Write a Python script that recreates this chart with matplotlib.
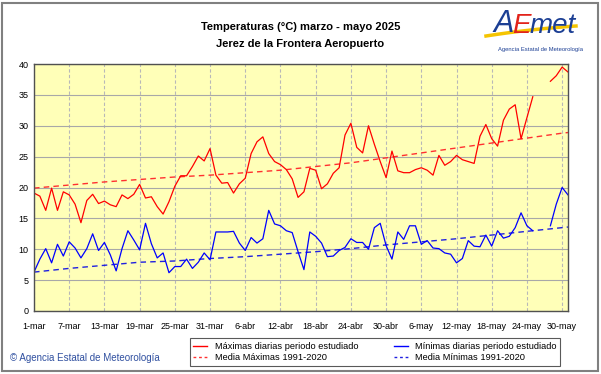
import numpy as np
import matplotlib
matplotlib.use("Agg")
import matplotlib.pyplot as plt
from matplotlib.patches import Rectangle
from matplotlib.lines import Line2D

plt.rcParams['font.family'] = ['Liberation Sans', 'DejaVu Sans']

# daily values, 1-mar .. 31-may 2025 (92 days)
tmax = [19.1, 18.6, 16.3, 19.9, 16.3, 19.3, 18.8, 17.3, 14.3, 17.9,
        18.9, 17.4, 17.8, 17.2, 16.9, 18.8, 18.2, 18.9, 20.5, 18.3,
        18.5, 16.9, 15.7, 17.7, 20.2, 21.9, 21.9, 23.4, 25.1, 24.3,
        26.3, 22.0, 20.7, 20.8, 19.1, 20.6, 21.5, 25.5, 27.4, 28.2,
        25.5, 24.2, 23.7, 22.9, 21.4, 18.4, 19.3, 23.1, 22.8, 19.8,
        20.6, 22.3, 23.2, 28.5, 30.4, 26.5, 25.6, 30.0, 27.0, 24.2,
        21.6, 25.9, 22.7, 22.4, 22.4, 22.9, 23.2, 22.8, 22.0, 25.2,
        23.6, 24.2, 25.2, 24.5, 24.2, 23.9, 28.3, 30.2, 27.9, 26.7,
        30.9, 32.7, 33.4, 27.9, 31.3, 34.7, np.nan, np.nan, 37.2, 38.1,
        39.5, 38.7]
tmin = [6.3, 8.4, 10.1, 7.8, 10.8, 8.9, 11.2, 10.2, 8.6, 10.1,
        12.5, 9.8, 11.1, 9.1, 6.5, 10.1, 13.0, 11.5, 9.9, 14.2,
        10.9, 8.6, 9.4, 6.2, 7.2, 7.2, 8.4, 6.9, 7.9, 9.4,
        8.3, 12.8, 12.8, 12.8, 12.9, 11.0, 9.8, 11.9, 11.0, 11.7,
        16.3, 14.1, 13.8, 13.0, 12.7, 9.6, 6.7, 12.8, 12.1, 11.0,
        8.8, 8.9, 9.8, 10.3, 11.7, 11.1, 11.1, 10.0, 13.5, 14.2,
        10.6, 8.4, 12.8, 11.6, 13.8, 13.8, 10.8, 11.4, 10.2, 10.1,
        9.4, 9.2, 7.8, 8.5, 11.4, 10.5, 10.4, 12.3, 10.5, 13.0,
        11.8, 12.1, 13.5, 15.9, 13.8, 13.0, np.nan, np.nan, 13.8, 17.3,
        20.0, 18.8]

# 1991-2020 normals, read at the tick dates (+ last day)
norm_days = [0, 6, 12, 18, 24, 30, 36, 42, 48, 54, 60, 66, 72, 78, 84, 90, 91]
norm_max = [19.9, 20.4, 20.9, 21.3, 21.7, 22.0, 22.4, 22.8, 23.4, 24.0,
            24.8, 25.6, 26.4, 27.2, 28.0, 28.8, 28.9]
norm_min = [6.3, 6.9, 7.4, 7.9, 8.1, 8.5, 8.8, 9.2, 9.6, 10.1,
            10.7, 11.2, 11.7, 12.3, 12.9, 13.5, 13.6]

tick_days = [0, 6, 12, 18, 24, 30, 36, 42, 48, 54, 60, 66, 72, 78, 84, 90]
tick_labels = ['1-mar', '7-mar', '13-mar', '19-mar', '25-mar', '31-mar',
               '6-abr', '12-abr', '18-abr', '24-abr', '30-abr', '6-may',
               '12-may', '18-may', '24-may', '30-may']

days = np.arange(len(tmax))

W, H = 601, 374
fig = plt.figure(figsize=(W / 100, H / 100), dpi=100)
fig.patch.set_facecolor('white')
ax = fig.add_axes([34 / W, 1 - 311 / H, 534 / W, 247 / H])
ax.set_facecolor('#FFFFB8')

red = '#FF0000'
blue = '#0000FF'
ax.plot(norm_days, norm_max, color='#FF3030', lw=1, dashes=(4, 3))
ax.plot(norm_days, norm_min, color='#2020E0', lw=1, dashes=(4, 3))
ax.plot(days, tmax, color=red, lw=0.9)
ax.plot(days, tmin, color=blue, lw=0.9)

ax.set_xlim(0, 91)
ax.set_ylim(0, 40)
ax.set_yticks(range(0, 41, 5))
ax.set_xticks(tick_days)
ax.set_xticklabels(tick_labels)
ax.tick_params(length=0, labelsize=6.5, colors='black')
ax.tick_params(axis='x', pad=8)
ax.tick_params(axis='y', pad=4)
ax.grid(axis='y', color='#A8A8A8', lw=0.8)
ax.grid(axis='x', color='#B8B8B8', lw=0.8, ls=(0, (3, 2)))
ax.set_axisbelow(True)
for s in ax.spines.values():
    s.set_color('#505050')
    s.set_linewidth(1)

fig.text(0.5, 1 - 27 / H, 'Temperaturas (°C) marzo - mayo 2025',
         ha='center', va='center', fontsize=8, fontweight='bold')
fig.text(0.5, 1 - 44 / H, 'Jerez de la Frontera Aeropuerto',
         ha='center', va='center', fontsize=8, fontweight='bold')

# AEMET logo (text approximation)
fig.text(493 / W, 1 - 24 / H, 'A', color='#1C3F94', fontsize=22,
         style='italic', va='center', ha='left')
fig.text(512 / W, 1 - 26 / H, 'E', color='#E2231A', fontsize=20,
         style='italic', va='center', ha='left')
fig.text(530 / W, 1 - 26 / H, 'met', color='#1C3F94', fontsize=20,
         style='italic', va='center', ha='left')
t = np.linspace(0, 1, 30)
fig.add_artist(Line2D((486 + 90 * t) / W, 1 - (36 - 14 * t + 4 * t * t) / H,
                      color='#F5C400', lw=2.5, transform=fig.transFigure))
fig.text(540 / W, 1 - 49 / H, 'Agencia Estatal de Meteorología',
         color='#1C3F94', fontsize=4.2, ha='center', va='center')

fig.text(10 / W, 1 - 358 / H, '© Agencia Estatal de Meteorología',
         color='#3050A0', fontsize=7, ha='left', va='center')

handles = [Line2D([], [], color=red, lw=1),
           Line2D([], [], color='#FF3030', lw=1, dashes=(2, 2)),
           Line2D([], [], color=blue, lw=1),
           Line2D([], [], color='#2020E0', lw=1, dashes=(2, 2))]
labels = ['Máximas diarias periodo estudiado', 'Media Máximas 1991-2020',
          'Mínimas diarias periodo estudiado', 'Media Mínimas 1991-2020']
leg = fig.legend(handles, labels, ncol=2, loc='center',
                 bbox_to_anchor=(375 / W, 1 - 352 / H), fontsize=6.7,
                 frameon=True, fancybox=False, edgecolor='#303030',
                 handlelength=1.5, handletextpad=0.8, columnspacing=3.8,
                 labelspacing=0.2, borderpad=0.4)
leg.get_frame().set_linewidth(0.8)

fig.add_artist(Rectangle((2 / W, 3 / H), 596 / W, 368 / H, fill=False,
                         edgecolor='#808080', lw=1.5,
                         transform=fig.transFigure))

fig.savefig('out.png', dpi=100)
